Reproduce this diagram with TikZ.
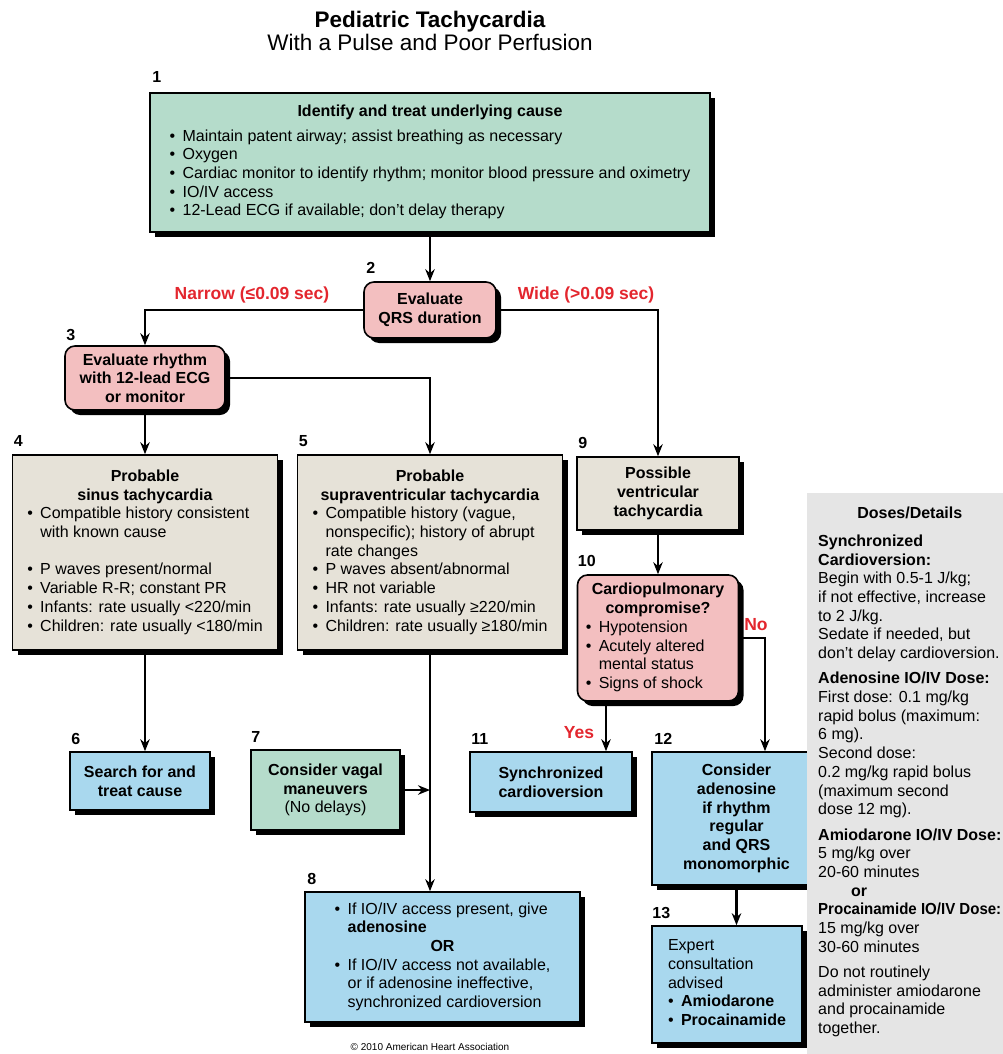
\documentclass[tikz,border=0pt]{standalone}
\usepackage{fontspec}
\setmainfont{Liberation Sans}
\usepackage{xcolor}
\usepackage{tikz}
\usetikzlibrary{arrows.meta,shadows}
\definecolor{G0}{HTML}{B5DCCB}
\definecolor{S0}{HTML}{E6E2D8}
\definecolor{R0}{HTML}{F3BFC0}
\definecolor{C0}{HTML}{A9D8EE}
\definecolor{D0}{HTML}{E5E5E5}
\definecolor{T0}{HTML}{E3262E}
\newcommand{\fsz}{\fontsize{16}{18.7}\selectfont}
\newcommand{\itm}{\makebox[13pt][l]{\textbullet}}
\newcommand{\cnt}{\hspace*{13pt}}
\tikzset{%
  box/.style={draw, line width=1.6pt, inner sep=0pt, font=\fsz, align=center,
    drop shadow={shadow xshift=5pt, shadow yshift=-5pt, fill=black, opacity=1}},
  greenbox/.style={box, fill=G0},
  sandbox/.style={box, fill=S0},
  pinkbox/.style={box, fill=R0, rounded corners=10pt},
  bluebox/.style={box, fill=C0},
  hd/.style={font=\fsz\bfseries},
  num/.style={font=\fsz\bfseries, anchor=base west, inner sep=0pt},
  ans/.style={font=\fontsize{17.5}{20}\selectfont\bfseries, text=T0, inner sep=0pt},
  arr/.style={line width=2.1pt, -{Stealth[length=12pt,width=9.5pt]}},
}

\begin{document}
\begin{tikzpicture}[x=1pt, y=-1pt]%
\useasboundingbox (0,0) rectangle (1003,1054);%
% title
\node[font=\fontsize{22.5}{26}\selectfont\bfseries, anchor=base] (title) at (430,28) {Pediatric Tachycardia};%
\node[font=\fontsize{22.5}{26}\selectfont, anchor=base] (subtitle) at (430,51) {With a Pulse and Poor Perfusion};%
% boxes
\node[greenbox, minimum width=560pt, minimum height=139pt] (cause) at (430,162.5) {\begin{tabular}{@{}l@{}}
\multicolumn{1}{c}{\textbf{Identify and treat underlying cause}}\\[6pt]
\itm Maintain patent airway; assist breathing as necessary\\
\itm Oxygen\\
\itm Cardiac monitor to identify rhythm; monitor blood pressure and oximetry\\
\itm IO/IV access\\
\itm 12-Lead ECG if available; don't delay therapy
\end{tabular}};%
\node[pinkbox, hd, minimum width=132pt, minimum height=56pt] (qrs) at (430,310) {Evaluate\\QRS duration};%
\node[pinkbox, hd, minimum width=160pt, minimum height=64pt] (rhythm) at (145,378) {Evaluate rhythm\\with 12-lead ECG\\or monitor};%
\node[sandbox, minimum width=265pt, minimum height=195pt] (sinus) at (145,552.5) {\begin{tabular}{@{}l@{}}
\multicolumn{1}{c}{\textbf{Probable}}\\
\multicolumn{1}{c}{\textbf{sinus tachycardia}}\\
\itm Compatible history consistent\\
\cnt with known cause\\[18.7pt]
\itm P waves present/normal\\
\itm Variable R-R; constant PR\\
\itm Infants: rate usually <220/min\\
\itm Children: rate usually <180/min
\end{tabular}};%
\node[sandbox, minimum width=265pt, minimum height=195pt] (svt) at (430,552.5) {\begin{tabular}{@{}l@{}}
\multicolumn{1}{c}{\textbf{Probable}}\\
\multicolumn{1}{c}{\textbf{supraventricular tachycardia}}\\
\itm Compatible history (vague,\\
\cnt nonspecific); history of abrupt\\
\cnt rate changes\\
\itm P waves absent/abnormal\\
\itm HR not variable\\
\itm Infants: rate usually ≥220/min\\
\itm Children: rate usually ≥180/min
\end{tabular}};%
\node[sandbox, hd, minimum width=162pt, minimum height=73pt] (vt) at (658,493.5) {Possible\\ventricular\\tachycardia};%
\node[pinkbox, minimum width=161pt, minimum height=126pt] (compromise) at (658,638) {\begin{tabular}{@{}l@{}}
\multicolumn{1}{c}{\textbf{Cardiopulmonary}}\\
\multicolumn{1}{c}{\textbf{compromise?}}\\
\itm Hypotension\\
\itm Acutely altered\\
\cnt mental status\\
\itm Signs of shock
\end{tabular}};%
\node[bluebox, hd, minimum width=140pt, minimum height=58pt] (search) at (140,781) {Search for and\\treat cause};%
\node[greenbox, hd, minimum width=149pt, minimum height=80pt] (vagal) at (325.5,790) {Consider vagal\\maneuvers\\{\mdseries(No delays)}};%
\node[bluebox, minimum width=275pt, minimum height=130pt] (adeno) at (442.5,957) {\begin{tabular}{@{}l@{}}
\itm If IO/IV access present, give\\
\cnt\textbf{adenosine}\\
\multicolumn{1}{c}{\textbf{OR}}\\
\itm If IO/IV access not available,\\
\cnt or if adenosine ineffective,\\
\cnt synchronized cardioversion
\end{tabular}};%
\node[bluebox, hd, minimum width=162pt, minimum height=60pt] (cardiov) at (551,782) {Synchronized\\cardioversion};%
\node[bluebox, hd, minimum width=169pt, minimum height=133pt] (consider) at (736.5,818.5) {Consider\\adenosine\\if rhythm\\regular\\and QRS\\monomorphic};%
\node[bluebox, minimum width=150pt, minimum height=117pt] (expert) at (727,984.5) {\begin{tabular}{@{}l@{}}
Expert\\
consultation\\
advised\\
\itm\textbf{Amiodarone}\\
\itm\textbf{Procainamide}
\end{tabular}};%
% step numbers
\node[num] (n1) at ([xshift=3pt,yshift=10pt]cause.north west) {1};%
\node[num] (n2) at ([xshift=3pt,yshift=8pt]qrs.north west) {2};%
\node[num] (n3) at ([xshift=2pt,yshift=5pt]rhythm.north west) {3};%
\node[num] (n4) at ([xshift=2pt,yshift=8pt]sinus.north west) {4};%
\node[num] (n5) at ([xshift=2pt,yshift=8pt]svt.north west) {5};%
\node[num] (n6) at ([xshift=2pt,yshift=7pt]search.north west) {6};%
\node[num] (n7) at ([xshift=1pt,yshift=7pt]vagal.north west) {7};%
\node[num] (n8) at ([xshift=3pt,yshift=7pt]adeno.north west) {8};%
\node[num] (n9) at ([xshift=2pt,yshift=8pt]vt.north west) {9};%
\node[num] (n10) at ([xshift=1pt,yshift=8pt]compromise.north west) {10};%
\node[num] (n11) at ([xshift=2pt,yshift=7pt]cardiov.north west) {11};%
\node[num] (n12) at ([xshift=3pt,yshift=7pt]consider.north west) {12};%
\node[num] (n13) at ([xshift=1pt,yshift=7pt]expert.north west) {13};%
% doses panel
\node[fill=D0, minimum width=196pt, minimum height=561pt, inner sep=0pt, anchor=north west] (panel) at (807,493) {};%
\node[font=\fsz, inner sep=0pt, anchor=north west] (doses) at (818,505) {\begin{tabular}{@{}l@{}}
\multicolumn{1}{c}{\textbf{Doses/Details}}\\[9.5pt]
\textbf{Synchronized}\\
\textbf{Cardioversion:}\\
Begin with 0.5-1 J/kg;\\
if not effective, increase\\
to 2 J/kg.\\
Sedate if needed, but\\
don't delay cardioversion.\\[6.5pt]
\textbf{Adenosine IO/IV Dose:}\\
First dose: 0.1 mg/kg\\
rapid bolus (maximum:\\
6 mg).\\
Second dose:\\
0.2 mg/kg rapid bolus\\
(maximum second\\
dose 12 mg).\\[6.5pt]
\textbf{Amiodarone IO/IV Dose:}\\
5 mg/kg over\\
20-60 minutes\\
\hspace*{33pt}\textbf{or}\\
\scalebox{0.94}[1]{\textbf{Procainamide IO/IV Dose:}}\\
15 mg/kg over\\
30-60 minutes\\[6.5pt]
Do not routinely\\
administer amiodarone\\
and procainamide\\
together.
\end{tabular}};%
% connectors
\draw[arr] (cause.south) -- (qrs.north);%
\draw[arr] (qrs.west) -| (rhythm.north);%
\draw[arr] (qrs.east) -| (vt.north);%
\draw[arr] (rhythm.east) -| (svt.north);%
\draw[arr] (rhythm.south) -- (sinus.north);%
\draw[arr] (sinus.south) -- (sinus.south |- search.north);%
\draw[arr] (svt.south) -- (svt.south |- adeno.north);%
\draw[arr] (vagal.east) -- (vagal.east -| svt.south);%
\draw[arr] (vt.south) -- (compromise.north);%
\draw[arr] ([xshift=-52pt]compromise.south) -- ([xshift=-52pt]compromise.south |- cardiov.north);%
\draw[arr] (compromise.east) -| ([xshift=28.5pt]consider.north);%
\draw[arr] (consider.south) -- (consider.south |- expert.north);%
% branch labels
\node[ans] (narrow) at (252,295) {Narrow (≤0.09 sec)};%
\node[ans] (wide) at (586,295) {Wide (>0.09 sec)};%
\node[ans] (no) at (756,625) {No};%
\node[ans] (yes) at (579,733) {Yes};%
\node[font=\fontsize{10}{12}\selectfont, anchor=base] (copy) at (430,1050) {© 2010 American Heart Association};%
\end{tikzpicture}
\end{document}
